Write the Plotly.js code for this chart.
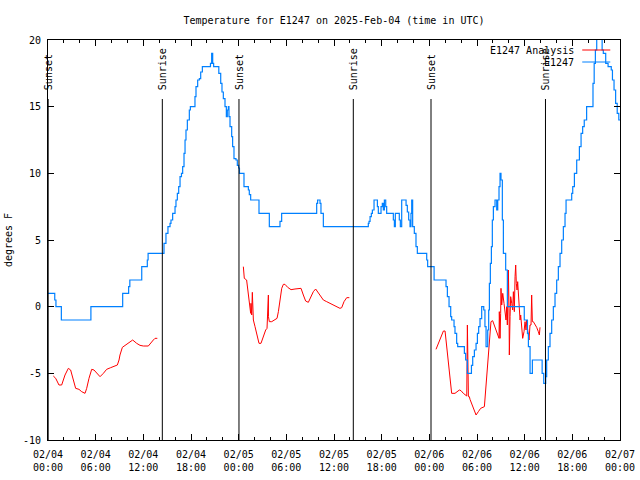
<!DOCTYPE html>
<html><head><meta charset="utf-8">
<script src="https://cdn.plot.ly/plotly-3.0.1.min.js"></script>
<style>html,body{margin:0;padding:0;background:#fff}</style>
</head><body><div id="chart" style="width:640px;height:480px"></div>
<script>
const START = Date.UTC(2025, 1, 4, 0, 0);
const HOUR = 3600000;

// Observed E1247: hours after 02/04 00:00 UTC where the reading changes, and the reading (deg F)
const obsHours = [0,0.85,1.0,1.68,5.4,9.4,10.15,10.3,11.8,12.5,12.6,14.6,14.85,15.1,15.36,15.48,15.69,15.99,16.11,16.28,16.45,16.62,16.8,16.95,17.12,17.25,17.37,17.54,17.79,17.92,18.5,18.63,18.84,19.05,19.22,19.43,20.45,20.6,20.73,20.85,21.5,21.74,21.9,22.07,22.28,22.45,22.57,22.7,22.78,22.91,23.12,23.24,23.41,23.66,23.83,24.0,24.1,24.67,25.22,25.34,25.51,26.56,27.86,29.2,29.41,33.82,33.94,34.24,34.36,34.66,40.32,40.41,40.54,40.7,40.83,41.04,41.46,41.58,41.92,42.08,42.21,42.34,42.51,42.63,43.47,43.6,43.72,44.22,44.35,44.52,45.07,45.23,45.4,45.57,45.69,45.78,45.9,46.11,46.32,46.49,47.67,47.79,48.6,50.1,50.27,50.48,50.69,50.81,51.11,51.23,51.44,51.57,52.41,52.57,52.79,53.3,53.46,53.67,53.88,54.05,54.21,54.38,54.59,54.85,55.0,55.14,55.35,55.47,55.56,55.68,55.81,55.93,56.06,56.27,56.48,56.61,56.77,56.9,57.02,57.19,57.32,57.61,57.82,59.95,60.35,60.47,60.68,60.97,62.2,62.4,62.65,62.77,62.98,63.19,63.4,63.61,63.82,64.03,64.24,64.45,64.66,64.87,65.08,65.21,65.92,66.05,66.26,66.55,66.89,67.1,67.3,67.5,67.8,68.6,68.75,68.9,69.07,69.28,69.6,69.75,69.9,70.2,70.5,70.9,71.05,71.25,71.45,71.65,71.85,72];
const obsTemps = [1,0.5,0,-1,0,1,1.5,2,3,3.5,4,4.75,5.5,6,6.25,6.5,7,7.5,8,8.5,9,9.75,10,10.5,11.5,12.5,13.25,14,14.75,15,15.75,16.5,17,17.1,17.6,18,18.25,19,18.25,18,17.5,16.75,16.1,15.6,15,14.25,14.75,15,14.25,13.5,12.75,12,11.1,11,10.6,10.4,10,9,8.75,8.4,8,7,6,6.4,7,7.75,8,7.75,7,6,6.25,6.4,6.75,7,7.25,8,7.5,7,7.5,7.75,7.25,8,7.5,7,6.5,6,7,6.5,6,8,7.6,7.1,6.5,6,7,8,6,5.5,4.5,4,3.5,3,2,1.5,0.75,0,-0.75,-1,-1.5,-2,-2.75,-3,-3.5,-4,-5,-4.4,-3.75,-3.25,-2.75,-2,-1.5,-0.9,0,-0.25,-1.5,-3,-1.75,-0.25,1.75,3.25,4.5,6.5,7.5,8,7.25,8,9,10,9.5,6.5,4,2.75,0,-1,-2,-3,-5,-4,-5,-5.75,-5.25,-4,-3,-2,-1,0,1,2,3,4,5,6,7,8,8.5,9,10,11,12,13,13.5,14,15,16.75,18.25,19.25,20.25,21.25,20.25,19.25,19,18.25,18,17.75,17,16.25,15.25,14.5,14,14];

// E1247 Analysis: three daily runs, separated by gaps (null)
const anaHours = [0.67,0.97,1.38,1.72,2.14,2.56,2.85,3.19,3.48,3.9,4.24,4.66,4.87,5.16,5.5,5.79,6.21,6.55,6.97,7.38,7.89,8.31,8.73,8.94,9.06,9.36,9.78,10.2,10.66,11.16,11.58,12.0,12.63,13.26,13.47,13.76,
  null,
  24.59,24.71,25.0,25.13,25.3,25.43,25.51,25.55,25.64,25.72,25.76,25.85,26.06,26.27,26.56,26.81,27.02,27.23,27.4,27.57,27.61,27.74,27.75,27.86,28.16,28.49,28.83,29.0,29.21,29.42,29.63,29.83,30.17,30.59,31.09,31.51,31.85,32.14,32.43,32.77,33.11,33.4,33.69,34.03,34.37,34.66,35.08,35.5,35.92,36.34,36.75,36.97,37.26,37.6,37.93,
  null,
  48.84,49.14,49.43,49.77,49.98,50.1,50.27,50.4,50.52,50.69,50.81,51.23,51.44,51.78,51.99,52.28,52.71,52.79,52.92,53.04,53.12,53.33,53.54,53.88,54.17,54.46,54.93,55.09,55.22,55.39,55.56,55.76,55.97,56.18,56.39,56.61,56.77,56.81,56.9,56.98,57.02,57.11,57.24,57.4,57.53,57.65,57.74,57.82,57.91,57.95,58.03,58.07,58.16,58.24,58.37,58.49,58.58,58.7,58.79,58.87,58.95,59.04,59.12,59.21,59.33,59.42,59.5,59.63,59.75,59.92,60.05,60.17,60.26,60.34,60.46,60.55,60.67,60.8,60.88,60.97,61.09,61.3,61.51,61.72,61.85,61.93];
const anaTemps = [-5.2,-5.375,-5.875,-5.875,-5.125,-4.625,-4.75,-5.625,-6.125,-6.2,-6.375,-6.5,-6.125,-5.375,-4.7,-4.75,-5.0,-5.25,-5.0,-4.7,-4.575,-4.5,-4.375,-4.0,-3.625,-3.05,-2.875,-2.7,-2.5,-2.75,-2.9,-2.95,-2.95,-2.5,-2.375,-2.375,
  null,
  3.0,2.125,2.0,1.375,0.75,0.125,-0.5,0.25,-0.625,1.075,-0.625,-1.0,-1.5,-2.125,-2.75,-2.75,-2.375,-2.0,-1.75,-1.625,-0.375,0.875,-0.75,-1.125,-1.125,-1.0,-0.875,-0.375,0.625,1.375,1.675,1.675,1.45,1.275,1.325,1.375,1.375,0.875,0.425,0.325,0.75,1.125,1.325,1.0,0.75,0.5,0.375,0.25,0.175,0.0,-0.125,-0.075,0.375,0.675,0.675,
  null,
  -3.2,-2.75,-2.25,-1.825,-1.825,-2.5,-3.25,-4.0,-4.75,-5.375,-6.5,-6.5,-6.375,-6.25,-6.3,-6.5,-6.7,-1.375,-6.75,-6.75,-6.95,-7.25,-7.5,-8.125,-7.875,-7.625,-7.5,-6.25,-5.0,-3.5,-2.25,-1.125,-1.05,-1.375,-1.75,-2.125,-2.375,-0.375,-2.375,-0.5,1.375,0.125,1.0,0.25,-0.625,-1.0,0.0,-1.375,1.25,2.75,-0.125,-3.625,-0.75,0.75,0.25,-0.25,1.125,-0.375,2.25,3.125,1.75,1.25,1.875,0.75,-0.25,-1.0,-0.625,-1.75,-2.375,-1.875,-1.125,-1.75,-1.0,-1.55,-2.25,-2.5,-1.375,-1.375,0.875,-1.125,-1.125,-1.3,-1.55,-1.875,-2.125,-1.55];

const sunHours = [0.02, 14.39, 24.04, 38.43, 48.21, 62.62];
const sunLabels = ['Sunset', 'Sunrise', 'Sunset', 'Sunrise', 'Sunset', 'Sunrise'];
const seriesNames = ['E1247 Analysis', 'E1247'];
const seriesColors = ['#ff0000', '#0080ff'];
const yTickVals = [-10, -5, 0, 5, 10, 15, 20];
const yTickText = ['-10', '-5', '0', '5', '10', '15', '20'];

const toMs = h => (h === null ? null : START + h * HOUR);
const FONT = {family: 'DejaVu Sans Mono, Liberation Mono, monospace', size: 10, color: '#000'};

const traces = [
  {x: anaHours.map(toMs), y: anaTemps, type: 'scatter', mode: 'lines', name: seriesNames[0],
   line: {color: seriesColors[0], width: 1}, connectgaps: false},
  {x: obsHours.map(toMs), y: obsTemps, type: 'scatter', mode: 'lines', name: seriesNames[1],
   line: {color: seriesColors[1], width: 1.2, shape: 'hv'}}
];

const shapes = [];
const annotations = [];
sunHours.forEach((h, i) => {
  shapes.push({type: 'line', xref: 'x', yref: 'paper', x0: toMs(h), x1: toMs(h), y0: 0, y1: 0.8525,
    line: {color: '#000', width: 1}});
  annotations.push({xref: 'x', yref: 'paper', x: toMs(h), y: 0.87, text: sunLabels[i], showarrow: false,
    textangle: -90, xanchor: 'center', yanchor: 'bottom', font: FONT});
});
// gnuplot-style key: text right-aligned, sample line to the right
seriesNames.forEach((n, i) => {
  const yp = [0.975, 0.945][i];
  annotations.push({xref: 'paper', yref: 'paper', x: 0.923, y: yp, text: n, showarrow: false,
    xanchor: 'right', yanchor: 'middle', font: FONT});
  shapes.push({type: 'line', xref: 'paper', yref: 'paper', x0: 0.934, x1: 0.983, y0: yp, y1: yp,
    line: {color: seriesColors[i], width: 1}});
});

const layout = {
  width: 640, height: 480,
  margin: {l: 48, r: 20, t: 40, b: 40},
  paper_bgcolor: '#fff', plot_bgcolor: '#fff',
  font: FONT,
  showlegend: false,
  title: {text: 'Temperature for E1247 on 2025-Feb-04 (time in UTC)', font: FONT,
    x: 0.5, xref: 'paper', xanchor: 'center', y: 1 - 20 / 480, yref: 'container', yanchor: 'middle'},
  xaxis: {type: 'date', range: [toMs(0), toMs(72)], tick0: toMs(0), dtick: 6 * HOUR,
    tickformat: '%m/%d<br>%H:%M', ticks: 'inside', ticklen: 6, tickcolor: '#000', tickwidth: 1,
    minor: {dtick: 2 * HOUR, tick0: toMs(0), ticks: 'inside', ticklen: 3, tickcolor: '#000', showgrid: false},
    showgrid: false, zeroline: false, showline: true, linecolor: '#000', linewidth: 1, mirror: 'ticks',
    tickfont: FONT, ticklabelstandoff: 5, automargin: false},
  yaxis: {range: [-10, 20], tickvals: yTickVals, ticktext: yTickText, ticks: 'inside', ticklen: 6,
    tickcolor: '#000', showgrid: false, zeroline: false, showline: true, linecolor: '#000', linewidth: 1,
    mirror: 'ticks', tickfont: FONT, ticklabelstandoff: 4, automargin: false,
    title: {text: 'degrees F', font: FONT, standoff: 8}},
  shapes: shapes,
  annotations: annotations
};

Plotly.newPlot('chart', traces, layout, {displayModeBar: false, staticPlot: true});
</script>
</body></html>
